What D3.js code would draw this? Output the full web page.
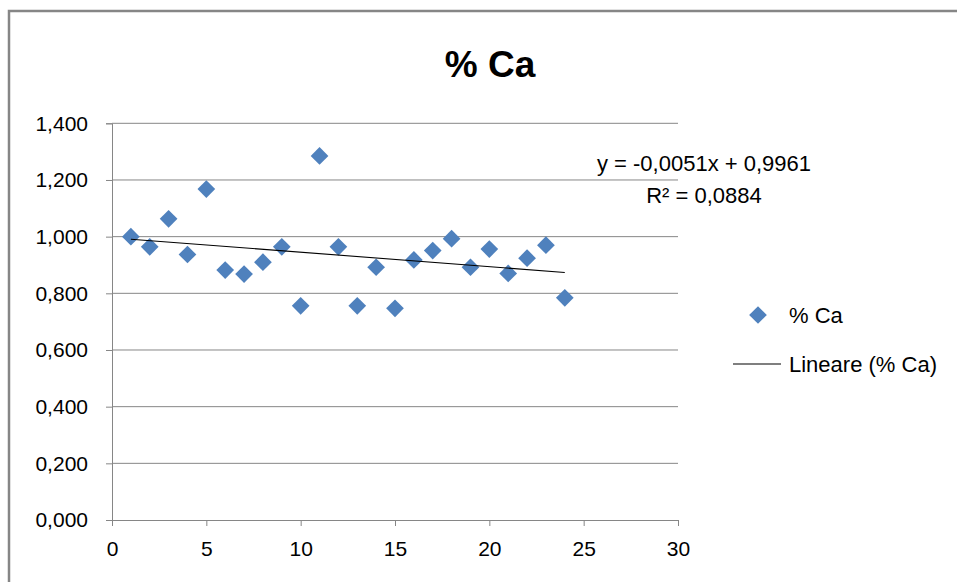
<!DOCTYPE html>
<html>
<head>
<meta charset="utf-8">
<script src="https://cdn.jsdelivr.net/npm/d3@7"></script>
<style>
  html, body { margin: 0; padding: 0; background: #fff; }
  svg { display: block; font-family: "Liberation Sans", Arial, sans-serif; }
</style>
</head>
<body>
<svg id="chart" width="957" height="582"></svg>
<script>
// Sample index and measured % Ca
const sampleIndex = [1, 2, 3, 4, 5, 6, 7, 8, 9, 10, 11, 12, 13, 14, 15, 16, 17, 18, 19, 20, 21, 22, 23, 24];
const caValues = [1.000, 0.964, 1.063, 0.937, 1.168, 0.882, 0.868, 0.910, 0.964, 0.756, 1.285, 0.964,
                  0.756, 0.892, 0.747, 0.918, 0.951, 0.993, 0.892, 0.956, 0.870, 0.924, 0.970, 0.784];
// Linear trend: y = slope * x + intercept
const trendSlope = -0.0051;
const trendIntercept = 0.9961;
const trendR2 = 0.0884;
const xTicks = [0, 5, 10, 15, 20, 25, 30];
const yTicks = [0, 0.2, 0.4, 0.6, 0.8, 1.0, 1.2, 1.4];
const chartTitle = "% Ca";
const seriesName = "% Ca";
const trendName = "Lineare (% Ca)";

const it = d3.formatLocale({ decimal: ",", thousands: ".", grouping: [3], currency: ["", "€"], minus: "-" });
const fmtY = it.format(".3f");
const fmt4 = it.format(".4f");

const svg = d3.select("#chart");
const grey = "#868686";

// outer chart frame
svg.append("rect")
  .attr("x", 9).attr("y", 11)
  .attr("width", 1000).attr("height", 700)
  .attr("fill", "#fff")
  .attr("stroke", grey).attr("stroke-width", 2.5);

const x = d3.scaleLinear().domain([0, 30]).range([112, 678]);
const y = d3.scaleLinear().domain([0, 1.4]).range([520, 123.3]);

// horizontal gridlines
svg.append("g").selectAll("line").data(yTicks.slice(1)).join("line")
  .attr("x1", x(0)).attr("x2", x(30))
  .attr("y1", d => y(d)).attr("y2", d => y(d))
  .attr("stroke", grey).attr("stroke-width", 1);

// y axis
const yAxis = svg.append("g")
  .attr("transform", `translate(${x(0)},0)`)
  .call(d3.axisLeft(y).tickValues(yTicks).tickFormat(fmtY).tickSize(6).tickPadding(18));
yAxis.select(".domain").attr("stroke", grey);
yAxis.selectAll(".tick line").attr("stroke", grey);
yAxis.selectAll(".tick text")
  .attr("fill", "#000").attr("font-size", 21)
  .attr("font-family", "Liberation Sans, Arial, sans-serif");

// x axis
const xAxis = svg.append("g")
  .attr("transform", `translate(0,${y(0)})`)
  .call(d3.axisBottom(x).tickValues(xTicks).tickFormat(d3.format("d")).tickSize(6).tickPadding(15));
xAxis.select(".domain").attr("stroke", grey);
xAxis.selectAll(".tick line").attr("stroke", grey);
xAxis.selectAll(".tick text")
  .attr("fill", "#000").attr("font-size", 21)
  .attr("font-family", "Liberation Sans, Arial, sans-serif");

// data markers
const diamond = d3.symbol().type(d3.symbolDiamond2).size(200);
const data = sampleIndex.map((d, i) => ({ x: d, v: caValues[i] }));
svg.append("g").selectAll("path").data(data).join("path")
  .attr("d", diamond)
  .attr("transform", d => `translate(${x(d.x)},${y(d.v)})`)
  .attr("fill", "#4F81BD");

// linear trendline
const xMin = d3.min(sampleIndex), xMax = d3.max(sampleIndex);
svg.append("line")
  .attr("x1", x(xMin)).attr("y1", y(trendSlope * xMin + trendIntercept))
  .attr("x2", x(xMax)).attr("y2", y(trendSlope * xMax + trendIntercept))
  .attr("stroke", "#000").attr("stroke-width", 1.1);

// title
svg.append("text")
  .attr("x", 490).attr("y", 77)
  .attr("text-anchor", "middle")
  .attr("font-size", 37).attr("font-weight", "bold")
  .text(chartTitle);

// equation label
const eq = svg.append("text").attr("text-anchor", "middle").attr("font-size", 22);
eq.append("tspan").attr("x", 704).attr("y", 171)
  .text(`y = ${fmt4(trendSlope)}x + ${fmt4(trendIntercept)}`);
eq.append("tspan").attr("x", 704).attr("y", 203)
  .text(`R² = ${fmt4(trendR2)}`);

// legend
const lg = svg.append("g");
lg.append("path").attr("d", diamond)
  .attr("transform", "translate(758,315)").attr("fill", "#4F81BD");
lg.append("text").attr("x", 789).attr("y", 315).attr("dy", "0.35em")
  .attr("font-size", 22).text(seriesName);
lg.append("line").attr("x1", 733).attr("x2", 781).attr("y1", 364).attr("y2", 364)
  .attr("stroke", "#000").attr("stroke-width", 1.1);
lg.append("text").attr("x", 789).attr("y", 364).attr("dy", "0.35em")
  .attr("font-size", 22).text(trendName);
</script>
</body>
</html>
